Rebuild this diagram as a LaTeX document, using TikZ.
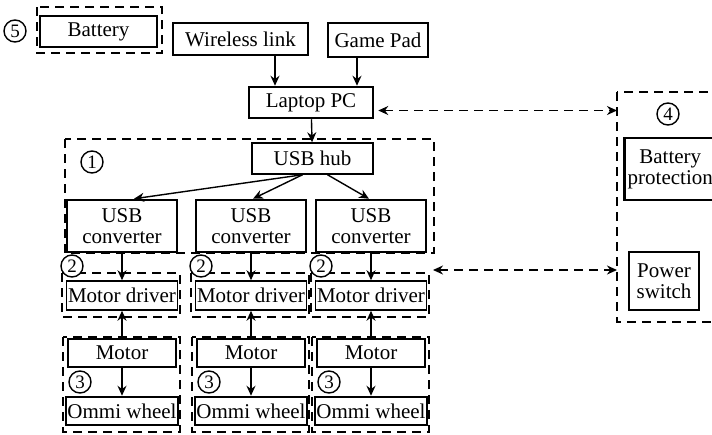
\documentclass[tikz,border=0pt]{standalone}
\usepackage{fontspec}
\setmainfont{Liberation Serif}
\usetikzlibrary{arrows.meta}

\begin{document}
\begin{tikzpicture}[x=1pt, y=-1pt,
  box/.style={draw, line width=1.5pt, align=center, inner sep=0pt, font=\fontsize{21}{21}\selectfont},
  heavy/.style={box, line width=2.5pt},
  group/.style={draw, line width=1.6pt, dash pattern=on 9pt off 6pt},
  num/.style={draw, circle, line width=1.4pt, fill=white, inner sep=0pt, minimum size=22pt, font=\fontsize{19}{19}\selectfont},
  arr/.style={-{Stealth[length=10pt,width=9pt]}, line width=1.4pt},
  darr/.style={{Stealth[length=10pt,width=9pt]}-{Stealth[length=10pt,width=9pt]}, line width=1.6pt, dash pattern=on 9pt off 6pt}]
\useasboundingbox (0,0) rectangle (712,434);
\clip (0,0) rectangle (712,434);
\node[box, minimum width=117pt, minimum height=31pt] (bat) at (98.5,31.5) {Battery};
\draw[group] (37,7) rectangle (162,53);
\node[num] (n5) at (15,31) {5};
\node[box, minimum width=135pt, minimum height=32pt] (wl) at (240.5,39) {Wireless link};
\node[box, minimum width=100pt, minimum height=34pt] (gp) at (378,40) {Game Pad};
\node[heavy, minimum width=124pt, minimum height=31pt] (lap) at (311,102.5) {Laptop PC};
\node[box, minimum width=121pt, minimum height=31pt] (hub) at (312.5,158.5) {USB hub};
\draw[group] (65,139) rectangle (434,253);
\node[num] (n1) at (92,162) {1};
\draw[arr] ([xshift=34.5pt]wl.south) -- ([xshift=-36pt]lap.north);
\draw[arr] ([xshift=-21pt]gp.south) -- ([xshift=46pt]lap.north);
\draw[arr] (lap) -- (hub);
\foreach \c/\n in {122/1, 251/2, 371/3}
   {\node[heavy, minimum width=110pt, minimum height=52pt] (conv\n) at (\c,226) {USB\\converter};
    \node[box, minimum width=111pt, minimum height=29pt] (drv\n) at (\c,295.5) {Motor driver};
    \node[box, minimum width=108pt, minimum height=28pt] (mot\n) at (\c,353) {Motor};
    \node[heavy, minimum width=112pt, minimum height=28pt] (whl\n) at (\c,411) {Ommi wheel};
    \draw[group] (\c-60,273) rectangle (\c+58,317);
    \draw[group] (\c-59,337) rectangle (\c+58,432);
    \draw[arr] (conv\n) -- (drv\n);
    \draw[arr, {Stealth[length=10pt,width=9pt]}-] (drv\n) -- (mot\n);
    \draw[arr] (mot\n) -- (whl\n);
    \node[num] (a\n) at (\c-50,266) {2};
    \node[num] (b\n) at (\c-42,382) {3};};
\foreach \n/\s/\e in {1/-10/12, 2/-10/2, 3/15/-2}
    \draw[arr] ([xshift=\s pt]hub.south) -- ([xshift=\e pt]conv\n.north);
\draw[group] (617,92) rectangle (740,322);
\node[num] (n4) at (668,114) {4};
\node[heavy, anchor=west, minimum width=92pt, minimum height=62pt] (bprot) at (623,169) {Battery\\protection};
\node[box, minimum width=70pt, minimum height=58pt] (psw) at (664,281) {Power\\switch};
\coordinate (in4) at (617,110.5);
\coordinate (in5) at (617,270);
\coordinate (out2) at (433,270);
\draw[darr] ([xshift=4pt,yshift=-8pt]lap.east) -- (in4);
\draw[darr] (out2) -- (in5);
\end{tikzpicture}
\end{document}
